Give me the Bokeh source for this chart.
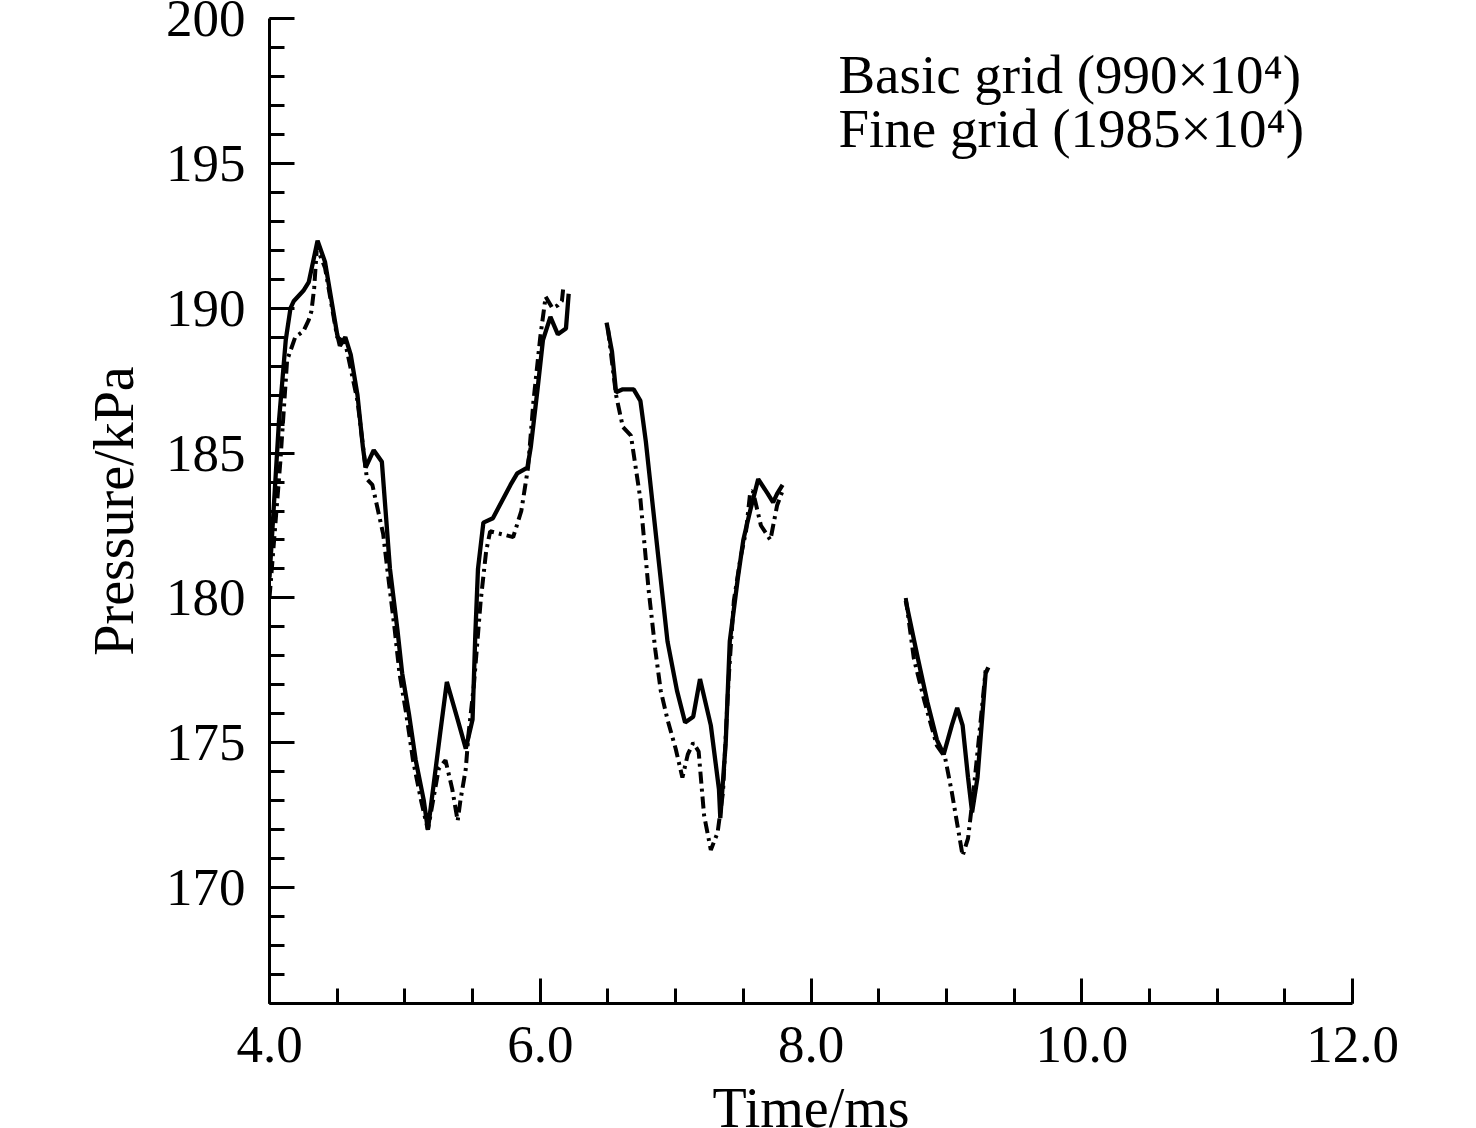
import math
from bokeh.plotting import figure
from bokeh.models import SingleIntervalTicker, PrintfTickFormatter, Label, Range1d
from bokeh.embed import file_html
from bokeh.resources import INLINE

NaN = float("nan")

# Basic grid (990x10^4) - solid line, three segments
basic_t1 = [4.00, 4.07, 4.12, 4.155, 4.18, 4.25, 4.29, 4.355, 4.41, 4.50, 4.52, 4.56, 4.60,
            4.65, 4.69, 4.71, 4.77, 4.83, 4.89, 4.945, 4.98, 5.03, 5.08, 5.14, 5.17, 5.26,
            5.31, 5.39, 5.45, 5.50, 5.52, 5.54, 5.58, 5.65, 5.78, 5.83, 5.905, 5.93, 5.98,
            6.02, 6.075, 6.13, 6.19, 6.21]
basic_p1 = [180.7, 186.1, 188.9, 190.0, 190.25, 190.6, 190.9, 192.33, 191.6, 189.1, 188.7, 189.0, 188.4,
            187.0, 185.2, 184.5, 185.1, 184.7, 181.0, 178.9, 177.4, 176.0, 174.4, 173.0, 172.0, 175.3,
            177.1, 175.8, 174.8, 175.8, 178.7, 181.0, 182.6, 182.75, 183.9, 184.3, 184.5, 185.2, 187.2,
            188.9, 189.7, 189.1, 189.3, 190.5]
basic_t2 = [6.49, 6.53, 6.56, 6.61, 6.69, 6.74, 6.78, 6.87, 6.94, 7.01, 7.07, 7.13, 7.18, 7.26,
            7.32, 7.33, 7.37, 7.40, 7.46, 7.50, 7.55, 7.61, 7.68, 7.72, 7.75, 7.79]
basic_p2 = [189.5, 188.5, 187.1, 187.2, 187.2, 186.8, 185.4, 181.5, 178.5, 176.8, 175.7, 175.9, 177.2, 175.6,
            173.4, 172.4, 175.0, 178.5, 180.7, 182.0, 183.0, 184.1, 183.6, 183.3, 183.6, 183.9]
basic_t3 = [8.70, 8.79, 8.86, 8.93, 8.98, 9.04, 9.08, 9.12, 9.16, 9.19, 9.23, 9.29, 9.31]
basic_p3 = [179.9, 177.9, 176.4, 175.1, 174.6, 175.6, 176.2, 175.6, 173.8, 172.6, 173.8, 177.4, 177.6]

# Fine grid (1985x10^4) - dash-dot line, three segments
fine_t1 = [4.00, 4.08, 4.13, 4.19, 4.25, 4.29, 4.31, 4.33, 4.35, 4.41, 4.50, 4.56, 4.65, 4.72,
           4.76, 4.84, 4.87, 4.925, 4.96, 5.01, 5.06, 5.12, 5.17, 5.25, 5.30, 5.35, 5.39, 5.41,
           5.45, 5.47, 5.51, 5.56, 5.60, 5.63, 5.80, 5.86, 5.89, 5.91, 5.95, 6.00, 6.04, 6.09,
           6.13, 6.16, 6.17]
fine_p1 = [180.0, 184.7, 188.2, 189.0, 189.2, 189.6, 189.9, 190.7, 192.1, 191.4, 189.0, 188.8, 186.8, 184.1,
           183.9, 182.2, 181.0, 178.9, 177.4, 176.0, 174.4, 173.0, 172.0, 174.1, 174.4, 173.4, 172.3, 173.0,
           174.1, 175.3, 177.0, 179.9, 181.6, 182.3, 182.1, 183.0, 183.9, 184.5, 186.8, 189.0, 190.4, 190.0,
           190.1, 190.25, 190.7]
fine_t2 = [6.50, 6.56, 6.61, 6.67, 6.74, 6.80, 6.85, 6.89, 6.94, 7.00, 7.05, 7.09, 7.13, 7.17,
           7.21, 7.26, 7.31, 7.35, 7.39, 7.43, 7.48, 7.52, 7.55, 7.57, 7.63, 7.70, 7.75, 7.79]
fine_p2 = [189.3, 187.0, 185.9, 185.6, 183.4, 180.3, 178.2, 176.8, 175.8, 174.8, 173.8, 174.6, 175.0, 174.7,
           172.5, 171.3, 171.9, 173.3, 177.1, 179.9, 181.4, 182.3, 183.6, 183.7, 182.5, 182.0, 183.2, 183.7]
fine_t3 = [8.70, 8.76, 8.84, 8.93, 8.99, 9.04, 9.08, 9.12, 9.16, 9.20, 9.25, 9.29]
fine_p3 = [180.0, 177.9, 176.4, 174.9, 174.5, 173.3, 172.2, 171.1, 171.7, 173.3, 175.6, 177.5]

legend_labels = ["Basic grid (990×10⁴)", "Fine grid (1985×10⁴)"]
x_label = "Time/ms"
y_label = "Pressure/kPa"


def join(*segs):
    out = []
    for i, s in enumerate(segs):
        if i:
            out.append(NaN)
        out.extend(s)
    return out


FONT = "Liberation Serif"

p = figure(width=1448, height=1146, x_range=Range1d(4, 12), y_range=Range1d(166, 200),
           output_backend="svg", toolbar_location=None,
           min_border_left=269, min_border_top=18, min_border_right=96, min_border_bottom=143)
p.outline_line_color = None
p.grid.visible = False
p.background_fill_color = "white"
p.border_fill_color = "white"

p.line(join(fine_t1, fine_t2, fine_t3), join(fine_p1, fine_p2, fine_p3),
       line_color="black", line_width=4, line_dash="12 5 3 5")
p.line(join(basic_t1, basic_t2, basic_t3), join(basic_p1, basic_p2, basic_p3),
       line_color="black", line_width=4.3)

p.xaxis.ticker = SingleIntervalTicker(interval=2, num_minor_ticks=4)
p.yaxis.ticker = SingleIntervalTicker(interval=5, num_minor_ticks=5)
p.xaxis.formatter = PrintfTickFormatter(format="%.1f")
p.xaxis.axis_label = x_label
p.yaxis.axis_label = y_label

for ax in (p.xaxis, p.yaxis):
    ax.axis_line_width = 3
    ax.axis_line_color = "black"
    ax.major_tick_line_width = 3
    ax.minor_tick_line_width = 3
    ax.major_tick_line_color = "black"
    ax.minor_tick_line_color = "black"
    ax.major_tick_in = 25
    ax.major_tick_out = 0
    ax.minor_tick_in = 15
    ax.minor_tick_out = 0
    ax.major_label_text_font = FONT
    ax.major_label_text_font_size = "53px"
    ax.major_label_text_color = "black"
    ax.axis_label_text_font = FONT
    ax.axis_label_text_font_size = "56px"
    ax.axis_label_text_font_style = "normal"
    ax.axis_label_text_color = "black"

p.xaxis.major_label_standoff = 23
p.xaxis.axis_label_standoff = 12
p.yaxis.major_label_standoff = 24
p.yaxis.axis_label_standoff = 18

legend_x = [8.2025, 8.2025]
legend_y = [198.07, 196.20]
for txt, lx, ly in zip(legend_labels, legend_x, legend_y):
    p.add_layout(Label(x=lx, y=ly, text=txt, text_font=FONT, text_font_size="55px",
                       text_color="black", text_baseline="alphabetic", text_align="left"))

open("out.html", "w").write(file_html(p, INLINE))
